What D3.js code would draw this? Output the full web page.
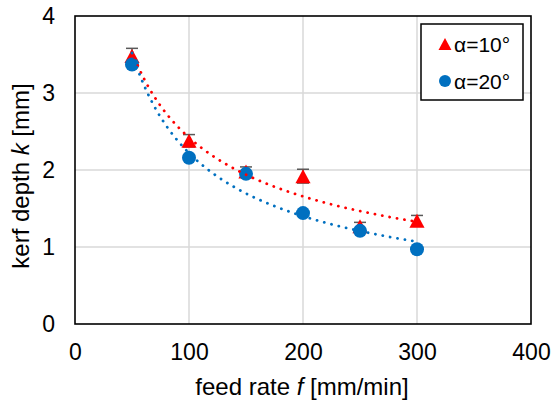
<!DOCTYPE html>
<html>
<head>
<meta charset="utf-8">
<script src="https://cdn.jsdelivr.net/npm/d3@7"></script>
<style>
  html, body { margin: 0; padding: 0; background: #fff; }
  svg { display: block; font-family: "Liberation Sans", Arial, sans-serif; }
</style>
</head>
<body>
<svg id="chart" width="551" height="405"></svg>
<script>
// Feed rate (mm/min) for every measurement
const feedRates = [50, 100, 150, 200, 250, 300];
// Kerf depth (mm) for α = 10°
const depth10 = [3.48, 2.38, 1.98, 1.92, 1.27, 1.34];
const err10   = [0.10, 0.08, 0.06, 0.09, 0.05, 0.07];
// Kerf depth (mm) for α = 20°
const depth20 = [3.37, 2.16, 1.95, 1.44, 1.21, 0.97];

const xTicks = [0, 100, 200, 300, 400];
const yTicks = [0, 1, 2, 3, 4];

const seriesNames = ["α=10°", "α=20°"];
const seriesColors = ["#ff0000", "#0070c0"];

const svg = d3.select("#chart");
const plot = { left: 75, top: 16, right: 531, bottom: 324 };

const x = d3.scaleLinear().domain([0, 400]).range([plot.left, plot.right]);
const y = d3.scaleLinear().domain([0, 4]).range([plot.bottom, plot.top]);

// gridlines
const grid = svg.append("g");
grid.selectAll("line.v").data(xTicks.slice(1, -1)).join("line")
  .attr("x1", d => x(d)).attr("x2", d => x(d))
  .attr("y1", plot.top).attr("y2", plot.bottom)
  .attr("stroke", "#d9d9d9").attr("stroke-width", 1.5);
grid.selectAll("line.h").data(yTicks.slice(1, -1)).join("line")
  .attr("y1", d => y(d)).attr("y2", d => y(d))
  .attr("x1", plot.left).attr("x2", plot.right)
  .attr("stroke", "#d9d9d9").attr("stroke-width", 1.5);

// axes (labels only, no tick marks)
const xAxis = svg.append("g")
  .attr("transform", `translate(0,${plot.bottom})`)
  .call(d3.axisBottom(x).tickValues(xTicks).tickFormat(d3.format("d")).tickSize(0).tickPadding(20));
const yAxis = svg.append("g")
  .attr("transform", `translate(${plot.left},0)`)
  .call(d3.axisLeft(y).tickValues(yTicks).tickFormat(d3.format("d")).tickSize(0).tickPadding(20));
[xAxis, yAxis].forEach(a => {
  a.select(".domain").remove();
  a.selectAll("text").attr("font-size", 23).attr("fill", "#000")
    .attr("font-family", "'Liberation Sans', Arial, sans-serif");
});
xAxis.selectAll("text").attr("dy", "0.71em");

// power trendline y = a·x^b fitted in log-log space
function powerFit(xs, ys) {
  const lx = xs.map(Math.log), ly = ys.map(Math.log);
  const mx = d3.mean(lx), my = d3.mean(ly);
  const b = d3.sum(lx.map((v, i) => (v - mx) * (ly[i] - my))) /
            d3.sum(lx.map(v => (v - mx) * (v - mx)));
  const a = Math.exp(my - b * mx);
  return t => a * Math.pow(t, b);
}

const triPath = s => {
  const h = s, w = s * 1.08;
  return `M0,${-h / 2}L${w / 2},${h / 2}L${-w / 2},${h / 2}Z`;
};

// error bars for α = 10°
const eb = svg.append("g").attr("stroke", "#595959").attr("stroke-width", 1.5);
feedRates.forEach((f, i) => {
  const cx = x(f);
  eb.append("line").attr("x1", cx).attr("x2", cx)
    .attr("y1", y(depth10[i] - err10[i])).attr("y2", y(depth10[i] + err10[i]));
  [depth10[i] - err10[i], depth10[i] + err10[i]].forEach(v =>
    eb.append("line").attr("x1", cx - 6).attr("x2", cx + 6)
      .attr("y1", y(v)).attr("y2", y(v)));
});

// markers
svg.append("g").selectAll("path").data(feedRates).join("path")
  .attr("d", triPath(14))
  .attr("transform", (d, i) => `translate(${x(d)},${y(depth10[i])})`)
  .attr("fill", seriesColors[0]);
svg.append("g").selectAll("circle").data(feedRates).join("circle")
  .attr("cx", d => x(d)).attr("cy", (d, i) => y(depth20[i]))
  .attr("r", 7).attr("fill", seriesColors[1]);

// dotted trendlines
[depth10, depth20].forEach((ys, k) => {
  const fit = powerFit(feedRates, ys);
  const pts = d3.range(50, 300.01, 2).map(t => [t, fit(t)]);
  svg.append("path")
    .attr("d", d3.line().x(d => x(d[0])).y(d => y(d[1]))(pts))
    .attr("fill", "none").attr("stroke", seriesColors[k])
    .attr("stroke-width", 2.8).attr("stroke-linecap", "round")
    .attr("stroke-dasharray", "0.1 7.4");
});

// plot border
svg.append("rect")
  .attr("x", plot.left).attr("y", plot.top)
  .attr("width", plot.right - plot.left).attr("height", plot.bottom - plot.top)
  .attr("fill", "none").attr("stroke", "#000").attr("stroke-width", 1.6);

// axis titles
const xt = svg.append("text").attr("x", (plot.left + plot.right) / 2 - 1).attr("y", 395)
  .attr("text-anchor", "middle").attr("font-size", 24);
xt.append("tspan").text("feed rate ");
xt.append("tspan").attr("font-style", "italic").text("f");
xt.append("tspan").text(" [mm/min]");

const yt = svg.append("text").attr("transform", "translate(29,176) rotate(-90)")
  .attr("text-anchor", "middle").attr("font-size", 24);
yt.append("tspan").text("kerf depth ");
yt.append("tspan").attr("font-style", "italic").text("k");
yt.append("tspan").text(" [mm]");

// legend
const lg = svg.append("g");
lg.append("rect").attr("x", 421).attr("y", 24).attr("width", 102).attr("height", 76)
  .attr("fill", "#fff").attr("stroke", "#000").attr("stroke-width", 1.5);
lg.append("path").attr("d", triPath(12)).attr("transform", "translate(445,44)")
  .attr("fill", seriesColors[0]);
lg.append("circle").attr("cx", 445).attr("cy", 81).attr("r", 6).attr("fill", seriesColors[1]);
seriesNames.forEach((n, i) => {
  lg.append("text").attr("x", 454).attr("y", i === 0 ? 44 : 81).attr("dy", "0.36em")
    .attr("font-size", 21).text(n);
});
</script>
</body>
</html>
